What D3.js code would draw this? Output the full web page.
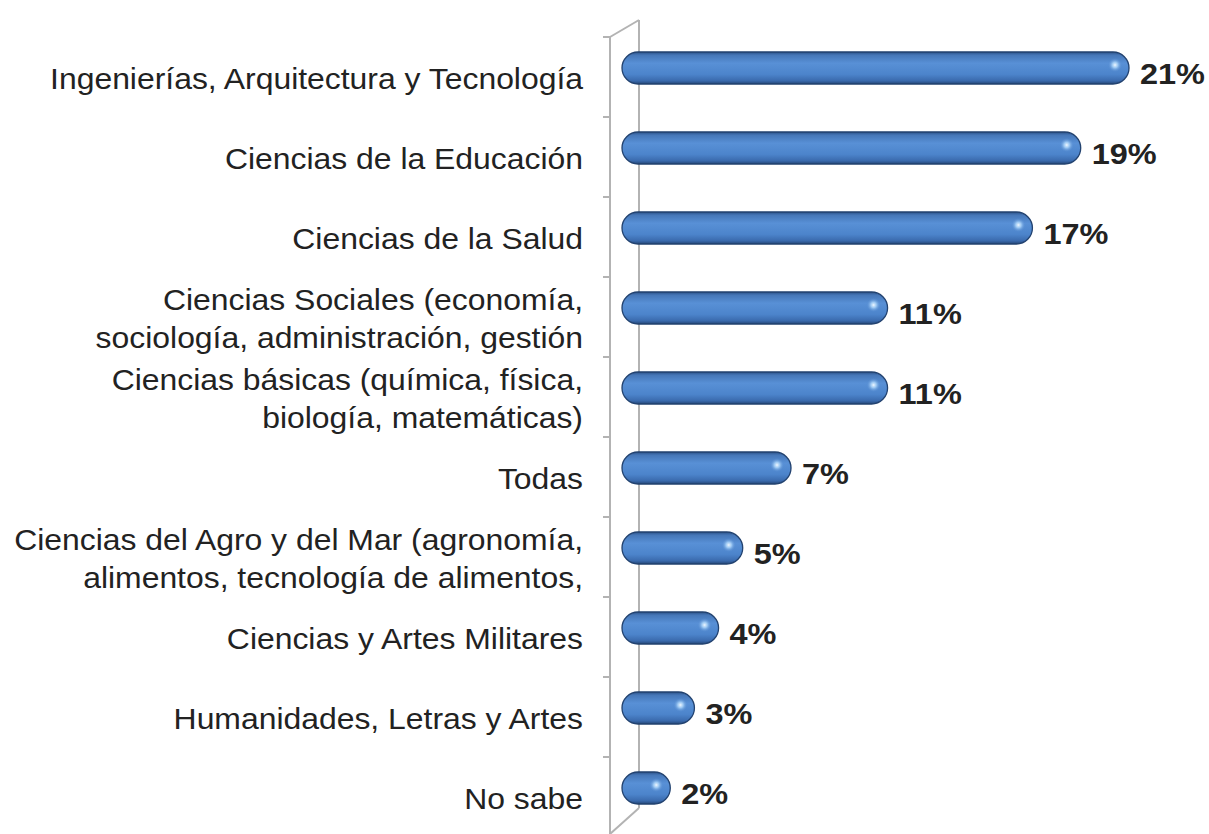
<!DOCTYPE html>
<html>
<head>
<meta charset="utf-8">
<title></title>
<style>
  body { margin: 0; background: #fff; }
  svg { display: block; }
</style>
</head>
<body>
<script src="https://d3js.org/d3.v7.min.js"></script>
<script>
// data
var categories = [
  ["Ingenierías, Arquitectura y Tecnología"],
  ["Ciencias de la Educación"],
  ["Ciencias de la Salud"],
  ["Ciencias Sociales (economía,", "sociología, administración, gestión"],
  ["Ciencias básicas (química, física,", "biología, matemáticas)"],
  ["Todas"],
  ["Ciencias del Agro y del Mar (agronomía,", "alimentos, tecnología de alimentos,"],
  ["Ciencias y Artes Militares"],
  ["Humanidades, Letras y Artes"],
  ["No sabe"]
];
var values = [21, 19, 17, 11, 11, 7, 5, 4, 3, 2];
var valueLabels = ["21%", "19%", "17%", "11%", "11%", "7%", "5%", "4%", "3%", "2%"];

var W = 1209, H = 834;
var depthX = 29, depthY = 17;   // 3d wall offset
var frontX = 610;
var font = "Liberation Sans, Arial, sans-serif";

var svg = d3.select("body").append("svg")
    .attr("width", W)
    .attr("height", H);

var defs = svg.append("defs");
var grad = defs.append("linearGradient")
    .attr("id", "barGrad")
    .attr("x1", 0).attr("y1", 0).attr("x2", 0).attr("y2", 1);
grad.append("stop").attr("offset", "0%").attr("stop-color", "#2c5288");
grad.append("stop").attr("offset", "10%").attr("stop-color", "#4677b8");
grad.append("stop").attr("offset", "35%").attr("stop-color", "#5890d6");
grad.append("stop").attr("offset", "70%").attr("stop-color", "#4c84cb");
grad.append("stop").attr("offset", "90%").attr("stop-color", "#3a6aad");
grad.append("stop").attr("offset", "100%").attr("stop-color", "#244676");

var hl = defs.append("radialGradient").attr("id", "hiGrad");
hl.append("stop").attr("offset", "0%").attr("stop-color", "#f0f8ff").attr("stop-opacity", 1);
hl.append("stop").attr("offset", "40%").attr("stop-color", "#a8d2f8").attr("stop-opacity", 0.85);
hl.append("stop").attr("offset", "100%").attr("stop-color", "#5a8fd3").attr("stop-opacity", 0);

var idx = d3.range(categories.length);

var y = d3.scaleBand()
    .domain(idx)
    .range([37, 837])
    .paddingInner(0)
    .paddingOuter(0);

var x = d3.scaleLinear()
    .domain([0, 21])
    .range([frontX + 12, 1129]);

// axis wall
var axisColor = "#b3b3b3";
var wall = svg.append("g").attr("fill", "none").attr("stroke", axisColor).attr("stroke-width", 2);
wall.append("line")
    .attr("x1", frontX).attr("x2", frontX)
    .attr("y1", y.range()[0]).attr("y2", H);
wall.append("line")
    .attr("x1", frontX + depthX).attr("x2", frontX + depthX)
    .attr("y1", y.range()[0] - depthY).attr("y2", y.range()[1] - depthY - 12);
wall.append("line")
    .attr("x1", frontX).attr("x2", frontX + depthX)
    .attr("y1", y.range()[0]).attr("y2", y.range()[0] - depthY);
wall.append("line")
    .attr("x1", frontX).attr("x2", frontX + depthX)
    .attr("y1", y.range()[1] - 3).attr("y2", y.range()[1] - depthY - 12);

// ticks at band boundaries
wall.selectAll("line.tick")
    .data(idx.concat([categories.length]))
    .enter().append("line")
    .attr("class", "tick")
    .attr("x1", frontX - 7).attr("x2", frontX)
    .attr("y1", function(d) { return d < categories.length ? y(d) : y.range()[1]; })
    .attr("y2", function(d) { return d < categories.length ? y(d) : y.range()[1]; });

// category labels (the source picture is a bit stretched sideways)
var lab = svg.append("g")
    .attr("transform", "translate(583,0) scale(1.1,1)")
    .attr("font-family", font)
    .attr("font-size", 29)
    .attr("fill", "#222")
    .attr("text-anchor", "end");

idx.forEach(function(i) {
  var lines = categories[i];
  var cy = y(i) + y.bandwidth() / 2 + 2;
  var gap = 38;
  var t = lab.append("text")
      .attr("x", 0)
      .attr("dominant-baseline", "central");
  lines.forEach(function(s, j) {
    var off = (j - (lines.length - 1) / 2) * gap;
    t.append("tspan").attr("x", 0).attr("y", cy + off).text(s);
  });
});

// bars
var barH = 32;
var bars = svg.append("g");
idx.forEach(function(i) {
  var cy = y(i) + y.bandwidth() / 2 - 9;
  var x0 = x(0), x1 = x(values[i]);
  bars.append("rect")
      .attr("x", x0)
      .attr("y", cy - barH / 2)
      .attr("width", x1 - x0)
      .attr("height", barH)
      .attr("rx", barH / 2)
      .attr("ry", barH / 2)
      .attr("fill", "url(#barGrad)")
      .attr("stroke", "#22426f")
      .attr("stroke-width", 1.3);
  bars.append("ellipse")
      .attr("cx", x1 - 14)
      .attr("cy", cy - 3)
      .attr("rx", 7)
      .attr("ry", 7)
      .attr("fill", "url(#hiGrad)");

  svg.append("text")
      .attr("transform", "translate(" + (x1 + 11) + "," + (cy + 6) + ") scale(1.12,1)")
      .attr("dominant-baseline", "central")
      .attr("font-family", font)
      .attr("font-weight", "bold")
      .attr("font-size", 29)
      .attr("fill", "#222")
      .text(valueLabels[i]);
});
</script>
</body>
</html>
